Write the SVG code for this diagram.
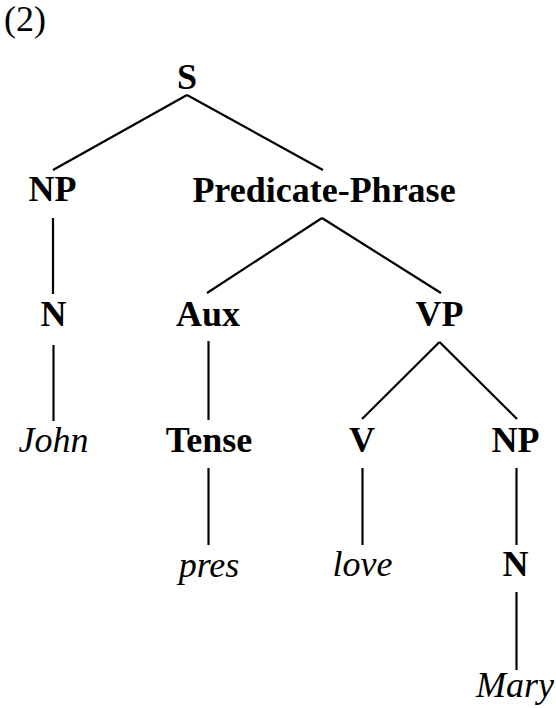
<svg xmlns="http://www.w3.org/2000/svg" width="556" height="708" viewBox="0 0 556 708">
<style>
text{font-family:"Liberation Serif","Times New Roman",serif;font-size:36px;fill:#000;text-anchor:middle}
.b{font-weight:bold}
.i{font-style:italic}
#edges line{stroke:#000;stroke-width:2.2;stroke-linecap:butt}
</style>
<rect width="556" height="708" fill="#fff"/>
<text x="4" y="31" style="text-anchor:start">(2)</text>
<g id="edges">
<line x1="187" y1="95" x2="53" y2="170"/>
<line x1="187" y1="95" x2="323" y2="170"/>
<line x1="53" y1="218" x2="53" y2="294"/>
<line x1="53.5" y1="345" x2="53.5" y2="421"/>
<line x1="322" y1="218" x2="207" y2="293"/>
<line x1="322" y1="218" x2="441" y2="293"/>
<line x1="208.5" y1="341" x2="208.5" y2="420"/>
<line x1="208.5" y1="468" x2="208.5" y2="545"/>
<line x1="439.5" y1="342" x2="362" y2="419"/>
<line x1="439.5" y1="342" x2="517" y2="419"/>
<line x1="362.5" y1="468" x2="362.5" y2="545"/>
<line x1="516.5" y1="468" x2="516.5" y2="545"/>
<line x1="516.5" y1="592" x2="516.5" y2="670"/>
</g>
<g id="S"><text class="b" x="187" y="89">S</text></g>
<g id="NP1"><text class="b" x="52.5" y="201">NP</text></g>
<g id="PredP"><text class="b" x="324" y="202">Predicate-Phrase</text></g>
<g id="N1"><text class="b" x="53.5" y="326">N</text></g>
<g id="Aux"><text class="b" x="208" y="326">Aux</text></g>
<g id="VP"><text class="b" x="439.5" y="326">VP</text></g>
<g id="John"><text class="i" x="53.5" y="452">John</text></g>
<g id="Tense"><text class="b" x="209" y="452">Tense</text></g>
<g id="V"><text class="b" x="362" y="452">V</text></g>
<g id="NP2"><text class="b" x="515.5" y="452">NP</text></g>
<g id="pres"><text class="i" x="209" y="577">pres</text></g>
<g id="love"><text class="i" x="362.5" y="576">love</text></g>
<g id="N2"><text class="b" x="515.5" y="576">N</text></g>
<g id="Mary"><text class="i" x="515" y="697">Mary</text></g>
</svg>
